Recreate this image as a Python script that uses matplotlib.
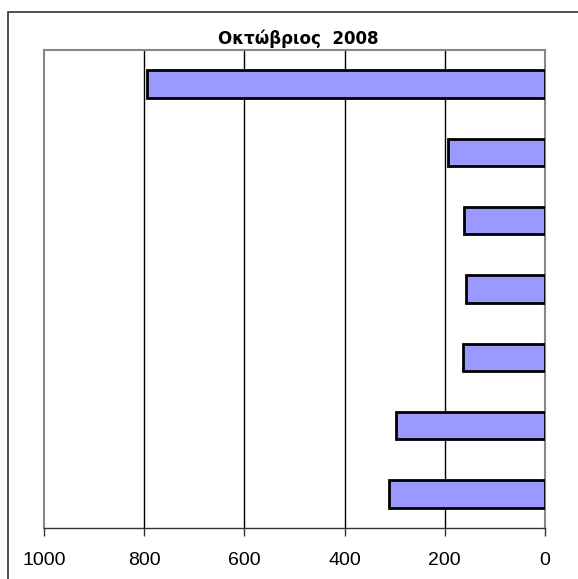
import matplotlib
matplotlib.use('Agg')
import matplotlib.pyplot as plt
from matplotlib.patches import Rectangle
import numpy as np

title = 'Οκτώβριος  2008'
values = [795, 193, 162, 158, 164, 297, 311]
xticks = [0, 200, 400, 600, 800, 1000]

W, H = 578, 579
fig = plt.figure(figsize=(W / 100, H / 100), dpi=100)

# outer frame, only left and top visible
fig.patches.append(Rectangle((8 / W, -0.1), 1.2, 1 - 12 / H + 0.1,
                             transform=fig.transFigure, fill=False,
                             edgecolor='#333333', linewidth=1.2))

ax = fig.add_axes([44 / W, 1 - 528 / H, (545 - 44) / W, (528 - 50) / H])

pos = np.arange(len(values))
ax.barh(pos, values, height=0.4, color='#9999FF', edgecolor='black',
        linewidth=2, zorder=3)

ax.set_xlim(1000, 0)
ax.set_ylim(len(values) - 0.5, -0.5)
ax.set_xticks(xticks)
ax.set_xticklabels([str(t) for t in xticks], fontsize=14, family='Liberation Sans')
ax.set_yticks([])
ax.tick_params(axis='x', direction='out', length=6, width=1, color='#333333', pad=11)

for x in xticks[1:-1]:
    ax.axvline(x, color='black', linewidth=1, zorder=1)

for s in ['left', 'right', 'top']:
    ax.spines[s].set_color('#888888')
    ax.spines[s].set_linewidth(1.5)
ax.spines['bottom'].set_color('#333333')
ax.spines['bottom'].set_linewidth(1)

fig.text(298 / W, 1 - 39 / H, title, ha='center', va='center',
         fontsize=12, fontweight='bold', family='DejaVu Sans')

fig.savefig('out.png', dpi=100)
